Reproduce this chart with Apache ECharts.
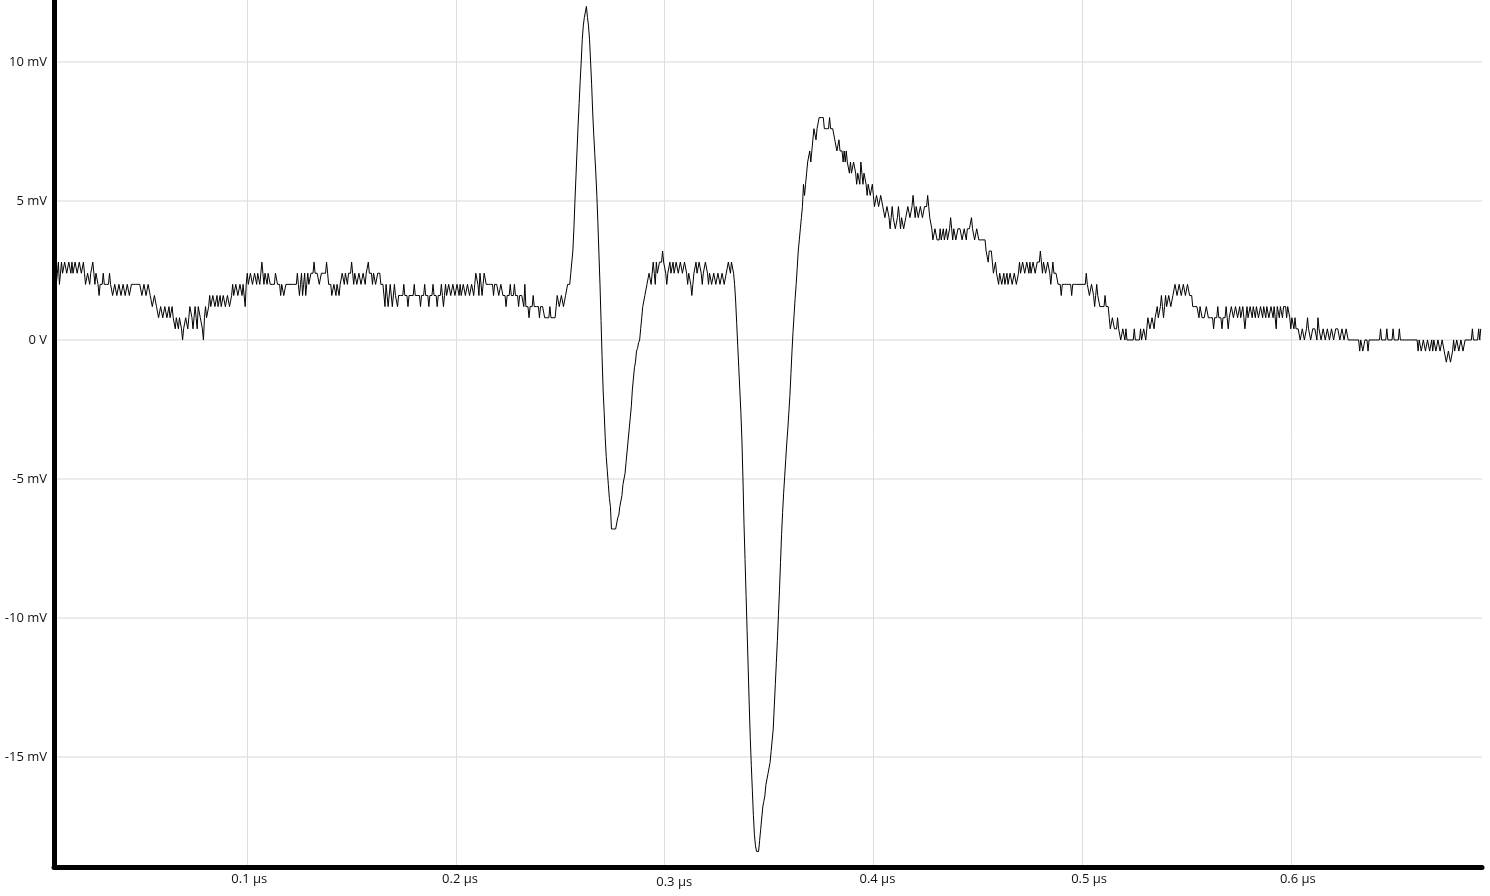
<!DOCTYPE html>
<html>
<head>
<meta charset="utf-8">
<script src="https://cdn.jsdelivr.net/npm/echarts@6/dist/echarts.min.js"></script>
<style>
html,body{margin:0;padding:0;background:#fff;}
#chart{width:1490px;height:896px;}
</style>
</head>
<body>
<div id="chart"></div>
<script>
// ---- data ----
// waveform sampled every 0.5 ns, first sample at 8 ns; values in mV
var sampleStart_ns = 8;
var sampleStep_ns = 0.5;
var voltage_mV = [
  1.6,2.0, 2.4,2.8, 2.0,2.4, 2.8,2.4, 2.4,2.8, 2.8,2.4, 2.4,2.8, 2.8,2.4, 2.8,2.4, 2.4,2.8,
  2.8,2.4, 2.4,2.8, 2.8,2.4, 2.4,2.8, 2.4,2.0, 2.0,2.4, 2.4,2.0, 2.4,2.4, 2.8,2.4, 2.0,2.4,
  2.4,2.0, 1.6,2.0, 2.0,2.0, 2.4,2.0, 2.0,2.0, 2.0,2.0, 2.4,2.0, 2.0,1.6, 1.6,2.0, 2.0,1.6,
  1.6,2.0, 2.0,1.6, 1.6,2.0, 2.0,1.6, 1.6,2.0, 2.0,1.6, 1.6,2.0, 2.0,2.0, 2.0,2.0, 2.0,2.0,
  2.0,2.0, 2.0,1.6, 1.6,2.0, 2.0,1.6, 1.6,2.0, 2.0,1.6, 1.6,1.2, 1.2,1.6, 1.6,1.2, 1.2,0.8,
  0.8,1.2, 1.2,0.8, 0.8,1.2, 1.2,0.8, 0.8,1.2, 0.8,0.8, 1.2,0.8, 0.8,0.4, 0.8,0.8, 0.4,0.8,
  0.8,0.4, 0.0,0.4, 0.4,0.8, 0.8,0.4, 0.8,1.2, 1.2,0.8, 0.4,0.8, 1.2,0.8, 0.4,1.2, 1.2,0.8,
  0.8,0.4, 0.0,0.8, 1.2,0.8, 0.8,1.2, 1.6,1.2, 1.2,1.6, 1.6,1.2, 1.2,1.6, 1.2,1.2, 1.6,1.2,
  1.2,1.6, 1.6,1.2, 1.2,1.6, 1.6,1.2, 1.2,1.6, 2.0,1.6, 1.6,2.0, 2.0,1.6, 1.6,2.0, 2.0,1.6,
  2.0,2.0, 1.2,2.0, 2.4,2.0, 2.0,2.4, 2.4,2.0, 2.0,2.4, 2.4,2.0, 2.4,2.4, 2.0,2.4, 2.8,2.4,
  2.0,2.4, 2.4,2.0, 2.4,2.4, 2.0,2.0, 2.0,2.0, 2.0,2.4, 2.4,2.0, 2.0,2.0, 1.6,2.0, 2.0,1.6,
  1.6,2.0, 2.0,2.0, 2.0,2.0, 2.0,2.0, 2.0,2.0, 2.0,2.0, 2.4,2.0, 1.6,2.0, 2.4,1.6, 2.0,2.4,
  1.6,2.0, 2.4,2.0, 2.0,2.4, 2.4,2.4, 2.8,2.4, 2.4,2.4, 2.4,2.0, 2.0,2.4, 2.4,2.4, 2.4,2.4,
  2.8,2.4, 2.0,2.0, 2.0,1.6, 1.6,2.0, 2.0,1.6, 2.0,2.0, 1.6,2.0, 2.0,2.4, 2.4,2.0, 2.4,2.4,
  2.0,2.4, 2.4,2.4, 2.8,2.4, 2.0,2.4, 2.4,2.0, 2.0,2.4, 2.4,2.0, 2.0,2.4, 2.4,2.0, 2.4,2.4,
  2.8,2.4, 2.4,2.4, 2.0,2.4, 2.4,2.0, 2.0,2.4, 2.4,2.4, 2.0,2.0, 2.0,2.0, 1.2,2.0, 2.0,1.2,
  1.2,2.0, 2.0,1.2, 1.2,2.0, 1.6,1.6, 1.2,1.6, 1.6,1.6, 1.6,1.6, 2.0,1.6, 1.6,1.6, 1.2,1.6,
  1.6,1.6, 1.6,1.6, 2.0,1.6, 1.6,1.6, 1.6,1.6, 1.2,1.6, 1.6,1.6, 2.0,1.6, 1.6,1.6, 1.2,1.6,
  1.6,1.6, 2.0,1.6, 1.6,1.6, 1.2,1.6, 1.6,1.6, 2.0,1.6, 1.2,1.6, 2.0,1.6, 1.6,2.0, 2.0,1.6,
  1.6,2.0, 2.0,1.6, 1.6,2.0, 2.0,1.6, 2.0,1.6, 1.6,2.0, 2.0,1.6, 1.6,2.0, 2.0,1.6, 1.6,2.0,
  2.0,1.6, 2.0,2.4, 2.4,2.0, 1.6,2.4, 2.4,1.6, 2.0,2.4, 2.4,2.0, 2.0,2.0, 2.0,2.0, 2.0,2.0,
  1.6,2.0, 2.0,2.0, 2.0,1.6, 1.6,2.0, 2.0,1.6, 1.6,1.6, 1.2,1.6, 1.6,1.6, 2.0,1.6, 1.6,1.6,
  2.0,1.6, 1.6,1.6, 1.2,1.6, 1.6,1.6, 1.6,1.2, 2.0,1.2, 1.2,1.2, 0.8,1.2, 1.2,1.2, 1.6,1.2,
  1.2,1.2, 1.2,1.2, 0.8,1.2, 1.2,1.2, 1.2,0.8, 0.8,0.8, 0.8,0.8, 1.2,0.8, 0.8,0.8, 0.8,0.8,
  1.2,1.6, 1.6,1.2, 1.2,1.6, 1.6,1.2, 1.2,1.6, 1.6,2.0, 2.0,2.0, 2.4,2.8, 3.2,4.0, 5.0,5.9,
  6.8,7.7, 8.5,9.3, 10.0,10.8, 11.3,11.6, 11.8,12.0, 11.6,11.3, 10.8,10.0, 9.2,8.2, 7.4,6.7, 6.0,5.2,
  4.2,3.1, 2.0,0.7, -0.6,-1.8, -2.6,-3.5, -4.2,-4.7, -5.2,-5.7, -6.0,-6.8, -6.8,-6.8, -6.8,-6.8, -6.8,-6.4,
  -6.3,-6.0, -5.8,-5.6, -5.2,-5.0, -4.8,-4.4, -4.0,-3.6, -3.2,-2.8, -2.4,-1.8, -1.4,-1.0, -0.8,-0.4, -0.3,-0.1,
  0.0,0.4, 0.8,1.2, 1.2,1.6, 1.6,2.0, 2.0,2.4, 2.4,2.0, 2.4,2.8, 2.4,2.0, 2.8,2.4, 2.4,2.8,
  2.8,2.8, 3.2,2.8, 2.8,2.4, 2.0,2.4, 2.4,2.8, 2.4,2.4, 2.8,2.4, 2.4,2.8, 2.8,2.4, 2.4,2.8,
  2.8,2.4, 2.4,2.8, 2.8,2.4, 2.0,2.4, 2.4,2.0, 1.6,2.0, 2.4,2.4, 2.8,2.4, 2.4,2.8, 2.8,2.4,
  2.0,2.4, 2.4,2.8, 2.8,2.4, 2.0,2.4, 2.4,2.0, 2.0,2.4, 2.4,2.0, 2.0,2.4, 2.4,2.0, 2.0,2.4,
  2.4,2.0, 2.0,2.4, 2.4,2.8, 2.8,2.4, 2.8,2.8, 2.4,2.0, 1.4,0.6, -0.2,-1.0, -1.8,-2.6, -3.6,-5.0,
  -6.6,-7.9, -9.2,-10.5, -11.8,-13.1, -14.3,-15.3, -16.2,-17.1, -17.8,-18.2, -18.4,-18.4, -18.4,-18.0, -17.6,-17.2, -16.8,-16.6,
  -16.4,-16.0, -15.8,-15.6, -15.4,-15.2, -14.8,-14.4, -14.0,-13.2, -12.4,-11.6, -10.8,-9.9, -9.0,-8.0, -7.0,-6.2, -5.5,-4.9,
  -4.3,-3.7, -3.2,-2.6, -2.0,-1.2, -0.4,0.3, 0.9,1.5, 2.0,2.6, 3.2,3.6, 4.0,4.4, 4.8,5.6, 5.2,5.6,
  6.0,6.4, 6.4,6.8, 6.4,6.8, 7.2,7.6, 7.6,7.2, 7.6,7.6, 8.0,8.0, 8.0,8.0, 8.0,7.6, 7.6,7.6,
  7.6,7.6, 8.0,7.6, 7.6,7.6, 7.6,7.2, 7.2,6.8, 6.8,7.2, 6.8,6.8, 6.8,6.4, 6.8,6.4, 6.8,6.4,
  6.4,6.0, 6.4,6.0, 6.0,6.4, 6.4,6.0, 5.6,6.0, 6.0,5.6, 6.4,6.0, 5.6,6.0, 6.0,5.6, 5.2,5.6,
  5.6,5.2, 5.2,5.6, 5.2,4.8, 4.8,5.2, 5.2,4.8, 4.8,5.2, 5.2,4.8, 4.8,4.4, 4.4,4.8, 4.8,4.4,
  4.0,4.4, 4.8,4.4, 4.4,4.0, 4.0,4.4, 4.8,4.4, 4.0,4.4, 4.4,4.0, 4.0,4.4, 4.4,4.8, 4.8,4.4,
  4.4,4.8, 5.2,4.8, 4.4,4.8, 4.8,4.4, 4.4,4.8, 4.8,4.4, 4.4,4.8, 4.8,4.8, 5.2,4.8, 4.4,4.4,
  4.0,3.6, 3.6,4.0, 4.0,3.6, 3.6,3.6, 4.0,3.6, 3.6,4.0, 3.6,3.6, 4.0,3.6, 3.6,4.0, 4.4,4.0,
  3.6,4.0, 4.0,3.6, 3.6,4.0, 4.0,4.0, 4.0,3.6, 3.6,4.0, 4.0,3.6, 4.0,4.0, 4.0,4.0, 4.4,4.0,
  4.0,3.6, 3.6,4.0, 4.0,3.6, 3.6,3.6, 3.6,3.6, 3.6,3.6, 3.2,3.2, 2.8,3.2, 3.2,3.2, 2.8,2.4,
  2.4,2.8, 2.4,2.4, 2.0,2.4, 2.4,2.0, 2.0,2.4, 2.0,2.0, 2.4,2.0, 2.0,2.4, 2.4,2.0, 2.0,2.4,
  2.4,2.0, 2.0,2.4, 2.8,2.4, 2.4,2.8, 2.8,2.4, 2.4,2.8, 2.8,2.4, 2.8,2.4, 2.4,2.8, 2.8,2.4,
  2.4,2.8, 2.8,2.8, 3.2,2.8, 2.4,2.8, 2.8,2.4, 2.4,2.8, 2.8,2.4, 2.0,2.4, 2.8,2.4, 2.4,2.4,
  2.4,2.0, 2.0,2.0, 1.6,2.0, 2.0,2.0, 2.0,2.0, 2.0,2.0, 2.0,2.0, 1.6,2.0, 2.0,2.0, 2.0,2.0,
  2.0,2.0, 2.0,2.0, 2.0,2.0, 2.0,2.0, 2.4,2.0, 2.0,1.6, 1.6,2.0, 2.0,1.6, 1.2,1.6, 2.0,1.6,
  1.6,1.2, 1.2,1.2, 1.2,1.2, 1.6,1.2, 1.2,1.2, 0.8,0.4, 0.4,0.8, 0.8,0.4, 0.4,0.4, 0.8,0.4,
  0.4,0.0, 0.0,0.4, 0.4,0.0, 0.4,0.0, 0.0,0.0, 0.0,0.0, 0.0,0.0, 0.4,0.0, 0.0,0.0, 0.0,0.0,
  0.4,0.0, 0.0,0.4, 0.4,0.0, 0.4,0.8, 0.8,0.4, 0.4,0.8, 0.8,0.4, 0.8,0.8, 1.2,0.8, 0.8,1.2,
  1.6,1.2, 0.8,1.2, 1.6,1.2, 1.2,1.6, 1.6,1.2, 1.2,1.6, 1.6,2.0, 2.0,1.6, 1.6,2.0, 2.0,1.6,
  1.6,2.0, 2.0,1.6, 1.6,2.0, 2.0,1.6, 1.6,1.6, 1.2,1.2, 1.2,1.2, 1.2,1.2, 0.8,1.2, 1.2,0.8,
  0.8,0.8, 0.8,1.2, 1.2,0.8, 0.8,0.8, 0.8,0.8, 0.4,0.8, 0.8,0.8, 1.2,0.8, 0.8,0.8, 0.4,0.8,
  0.8,0.8, 1.2,0.8, 0.4,0.8, 0.8,1.2, 1.2,0.8, 0.8,1.2, 1.2,0.8, 0.8,1.2, 0.8,0.8, 1.2,0.8,
  0.4,0.8, 1.2,0.8, 0.8,1.2, 1.2,0.8, 1.2,1.2, 0.8,1.2, 1.2,0.8, 0.8,1.2, 1.2,0.8, 1.2,1.2,
  0.8,1.2, 1.2,0.8, 0.8,1.2, 1.2,0.8, 1.2,1.2, 0.4,1.2, 1.2,0.8, 1.2,1.2, 0.8,1.2, 1.2,1.2,
  0.8,1.2, 1.2,0.8, 0.4,0.8, 0.8,0.4, 0.8,0.4, 0.4,0.4, 0.4,0.0, 0.0,0.4, 0.4,0.0, 0.0,0.4,
  0.8,0.4, 0.4,0.0, 0.0,0.4, 0.4,0.4, 0.4,0.0, 0.8,0.4, 0.4,0.0, 0.0,0.4, 0.4,0.0, 0.0,0.4,
  0.4,0.0, 0.0,0.4, 0.4,0.0, 0.0,0.4, 0.4,0.4, 0.4,0.0, 0.0,0.4, 0.4,0.0, 0.0,0.4, 0.4,0.0,
  0.0,0.0, 0.0,0.0, 0.0,0.0, 0.0,0.0, 0.0,0.0, -0.4,0.0, 0.0,-0.4, -0.4,0.0, 0.0,0.0, -0.4,0.0,
  0.0,0.0, 0.0,0.0, 0.0,0.0, 0.0,0.0, 0.0,0.0, 0.4,0.0, 0.0,0.0, 0.0,0.0, 0.4,0.0, 0.0,0.0,
  0.0,0.0, 0.4,0.0, 0.0,0.0, 0.0,0.0, 0.4,0.0, 0.0,0.0, 0.0,0.0, 0.0,0.0, 0.0,0.0, 0.0,0.0,
  0.0,0.0, 0.0,0.0, 0.0,0.0, -0.4,0.0, 0.0,-0.4, -0.4,0.0, 0.0,-0.4, -0.4,0.0, 0.0,-0.4, -0.4,0.0,
  -0.4,0.0, 0.0,-0.4, -0.4,0.0, 0.0,-0.4, -0.4,0.0, 0.0,-0.4, -0.4,-0.8, -0.8,-0.4, -0.4,-0.8, -0.8,-0.4,
  0.0,-0.4, -0.4,0.0, 0.0,-0.4, -0.4,0.0, 0.0,-0.4, -0.4,0.0, 0.0,0.0, 0.0,0.0, 0.0,0.0, 0.4,0.0,
  0.0,0.0, 0.0,0.0, 0.4,0.0, 0.4
];
var xTickValues_us = [0.1, 0.2, 0.3, 0.4, 0.5, 0.6];
var xTickLabels = ['0.1 µs', '0.2 µs', '0.3 µs', '0.4 µs', '0.5 µs', '0.6 µs'];
var yTickValues_mV = [-15, -10, -5, 0, 5, 10];
var yTickLabels = ['-15 mV', '-10 mV', '-5 mV', '0 V', '5 mV', '10 mV'];
var xRange_us = [0.0074, 0.6916];
var yRange_mV = [-18.96, 12.23];

// ---- build series ----
var points = voltage_mV.map(function (v, i) {
  return [(sampleStart_ns + i * sampleStep_ns) / 1000, v];
});

var FONT = '"Open Sans", "Noto Sans", sans-serif';
// per-label small position offsets seen in the reference
var xLabelStyles = {
  l0: {padding: [0, 0, 0, 4]},
  l1: {padding: [0, 0, 0, 8]},
  l2: {padding: [3, 0, 0, 19]},
  l3: {padding: [0, 0, 0, 8]},
  l4: {padding: [0, 0, 5, 14]},
  l5: {padding: [0, 0, 6, 14]}
};
Object.keys(xLabelStyles).forEach(function (k) {
  xLabelStyles[k].fontFamily = FONT;
  xLabelStyles[k].fontSize = 13;
  xLabelStyles[k].color = '#111';
});

var chart = echarts.init(document.getElementById('chart'), null, {renderer: 'canvas'});
chart.setOption({
  animation: false,
  backgroundColor: '#ffffff',
  grid: {left: 54, right: 8, top: 0, bottom: 29, containLabel: false},
  xAxis: {
    type: 'value',
    min: xRange_us[0],
    max: xRange_us[1],
    axisLine: {show: true, onZero: false, lineStyle: {color: '#000', width: 5}},
    axisTick: {show: false, customValues: xTickValues_us},
    splitLine: {show: true, lineStyle: {color: '#dedede', width: 1}},
    axisLabel: {
      customValues: xTickValues_us,
      margin: 6,
      fontFamily: FONT,
      fontSize: 13,
      color: '#111',
      formatter: function (v) {
        var i = xTickValues_us.findIndex(function (t) { return Math.abs(t - v) < 1e-9; });
        if (i < 0) return '';
        return '{l' + i + '|' + xTickLabels[i] + '}';
      },
      rich: xLabelStyles
    }
  },
  yAxis: {
    type: 'value',
    min: yRange_mV[0],
    max: yRange_mV[1],
    axisLine: {show: true, onZero: false, lineStyle: {color: '#000', width: 5}},
    axisTick: {show: false, customValues: yTickValues_mV},
    splitLine: {show: true, lineStyle: {color: '#ebebeb', width: 2}},
    axisLabel: {
      customValues: yTickValues_mV,
      margin: 7,
      fontFamily: FONT,
      fontSize: 13,
      color: '#111',
      formatter: function (v) {
        var i = yTickValues_mV.findIndex(function (t) { return Math.abs(t - v) < 1e-9; });
        return i < 0 ? '' : yTickLabels[i];
      }
    }
  },
  series: [{
    type: 'line',
    data: points,
    showSymbol: false,
    symbol: 'none',
    sampling: null,
    lineStyle: {color: '#000', width: 1},
    z: 3
  }]
});
</script>
</body>
</html>
